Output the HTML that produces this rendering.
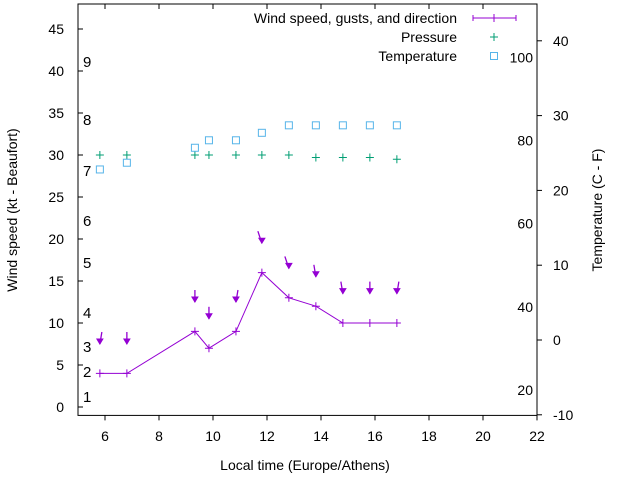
<!DOCTYPE html>
<html><head><meta charset="utf-8"><style>
body{margin:0;background:#fff}
svg{display:block;font-family:"Liberation Sans",sans-serif}
</style></head><body>
<svg id="chart" width="640" height="480" viewBox="0 0 640 480"></svg>
<script>
const times=[5.81,6.81,9.33,9.85,10.85,11.81,12.81,13.81,14.81,15.81,16.81];
const wind=[4,4,9,7,9,16,13,12,10,10,10];
const gusts=[7.5,7.5,12.5,10.5,12.5,19.5,16.5,15.5,13.5,13.5,13.5];
const dirTilt=[1,0,0,0,1,-2,-2,-1,-1,0,1];
const pressure=[30,30,30,30,30,30,30,29.7,29.7,29.7,29.5];
const tempC=[22.8,23.7,25.7,26.7,26.7,27.7,28.7,28.7,28.7,28.7,28.7];
const xTicks=[6,8,10,12,14,16,18,20,22];
const yTicks=[0,5,10,15,20,25,30,35,40,45];
const y2Ticks=[-10,0,10,20,30,40];
const beaufort=[[1,397],[2,372],[3,347],[4,313],[5,263],[6,221],[7,171],[8,120],[9,62]];
const fahr=[20,40,60,80,100];

const svg=document.getElementById('chart');
const NS='http://www.w3.org/2000/svg';
const L=78,R=537,T=4,B=415.4;
const X=v=>L+(v-5)*(R-L)/17;
const Y=v=>407-v*8.4;
const Y2=v=>340-v*7.48;
function mk(tag,attrs,text){const e=document.createElementNS(NS,tag);for(const k in attrs)e.setAttribute(k,attrs[k]);if(text!==undefined)e.textContent=text;svg.appendChild(e);return e;}

let e=mk('rect',{x:L,y:T,width:R-L,height:B-T,fill:'none',stroke:'#000','stroke-width':1});



xTicks.forEach(t=>{
  let l=mk('line',{x1:X(t),x2:X(t),y1:B,y2:B+5,stroke:'#000'});
  
  
  let l2=mk('line',{x1:X(t),x2:X(t),y1:T,y2:T+5,stroke:'#000'});
  
  
  let s=mk('text',{x:X(t),y:441,'font-size':14,'text-anchor':'middle'},t);
  
  
});
yTicks.forEach(t=>{
  let l=mk('line',{x1:L,x2:L+5,y1:Y(t),y2:Y(t),stroke:'#000'});
  
  
  let s=mk('text',{x:64,y:Y(t)+5,'font-size':14,'text-anchor':'end'},t);
  
  
});
y2Ticks.forEach(t=>{
  let l=mk('line',{x1:R,x2:R+5,y1:Y2(t),y2:Y2(t),stroke:'#000'});
  
  
  let s=mk('text',{x:553,y:Y2(t)+5,'font-size':14,'text-anchor':'start'},t);
  
  
});
beaufort.forEach(b=>{
  let s=mk('text',{x:83,y:b[1]+5,'font-size':15},b[0]);
  
  
});
fahr.forEach(f=>{
  let s=mk('text',{x:533,y:Y2((f-32)/1.8)+5,'font-size':14,'text-anchor':'end'},f);
  
  
});

e=mk('text',{x:305,y:470,'font-size':14,'text-anchor':'middle'},'Local time (Europe/Athens)');


e=mk('text',{x:17,y:210,'font-size':14,'text-anchor':'middle',transform:'rotate(-90 17 210)'},'Wind speed (kt - Beaufort)');


e=mk('text',{x:602,y:210,'font-size':14,'text-anchor':'middle',transform:'rotate(-90 602 210)'},'Temperature (C - F)');



e=mk('polyline',{points:times.map((t,i)=>X(t)+','+Y(wind[i])).join(' '),fill:'none',stroke:'#9400d3','stroke-width':1});


times.forEach((t,i)=>{
  const x=X(t),y=Y(wind[i]);
  let p=mk('path',{d:`M${x-4},${y}H${x+4}M${x},${y-4}V${y+4}`,stroke:'#9400d3'});
  
  
  const gy=Y(gusts[i]),dx=dirTilt[i]*2;
  let a=mk('path',{d:`M${x+dx},${gy-12}L${x},${gy}`,stroke:'#9400d3','stroke-width':1.3,fill:'none'});
  
  
  let h=mk('path',{d:`M${x-3},${gy-5}L${x},${gy}L${x+3},${gy-5}Z`,stroke:'#9400d3',fill:'#9400d3'});
  
  
  const py=Y(pressure[i]);
  let q=mk('path',{d:`M${x-4},${py}H${x+4}M${x},${py-4}V${py+4}`,stroke:'#009e73'});
  
  
  let r=mk('rect',{x:x-3.5,y:Y2(tempC[i])-3.5,width:7,height:7,fill:'none',stroke:'#56b4e9'});
  
  
});

const leg=[['Wind speed, gusts, and direction',18],['Pressure',37],['Temperature',56]];
leg.forEach(l=>{
  let s=mk('text',{x:457,y:l[1]+5,'font-size':14,'text-anchor':'end'},l[0]);
  
  
});
e=mk('path',{d:'M473,18H516M473,15V21M494,14V22M516,15V21',stroke:'#9400d3'});


e=mk('path',{d:'M490,37H498M494,33V41',stroke:'#009e73'});


e=mk('rect',{x:490.5,y:52.5,width:7,height:7,fill:'none',stroke:'#56b4e9'});


</script>
</body></html>
